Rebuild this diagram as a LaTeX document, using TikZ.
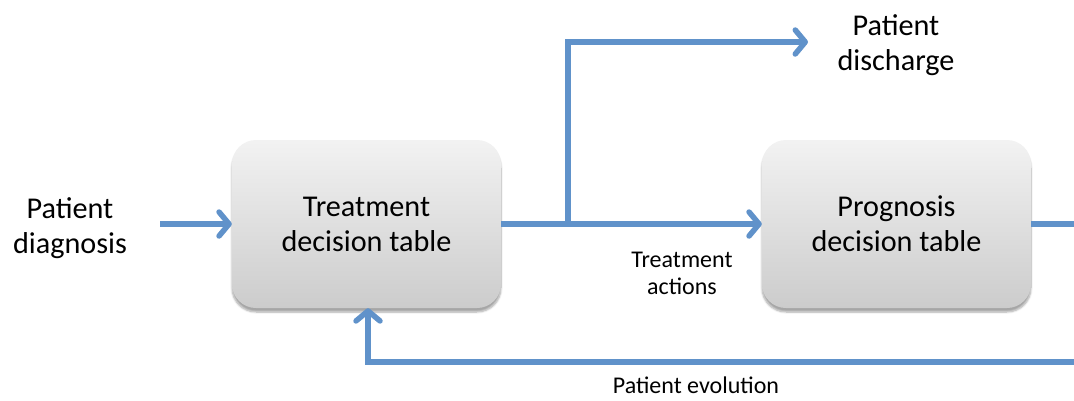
\documentclass[tikz,border=0pt]{standalone}
\usepackage{fontspec}
\setmainfont{Carlito}
\usetikzlibrary{arrows.meta,shadows.blur}
\definecolor{flowblue}{RGB}{96,146,202}
\begin{document}
\begin{tikzpicture}[x=1pt,y=-1pt,
  table/.style={rounded corners=24pt, minimum width=269pt, minimum height=168pt,
    top color=black!5, bottom color=black!20, draw=none,
    blur shadow={shadow xshift=0pt, shadow yshift=-4pt, shadow blur steps=6, shadow opacity=35},
    align=center, font=\fontsize{30.2}{35}\selectfont},
  biglabel/.style={align=center, font=\fontsize{30.2}{35}\selectfont, inner sep=0pt},
  smalllabel/.style={align=center, font=\fontsize{24}{27}\selectfont, inner sep=0pt},
  line/.style={draw=flowblue, line width=5.5pt},
  flow/.style={line, -{Straight Barb[length=10pt,width=24pt,round]}},
]
\useasboundingbox (0,0) rectangle (1074,400);

% the two decision tables
\node[table] (treat) at (366.5,224) {Treatment\\decision table};
\node[table] (prog)  at (896.5,224) {Prognosis\\decision table};

% free labels
\node[biglabel]   (diag)    at (70,228)  {Patient\\diagnosis};
\node[biglabel]   (disch)   at (896,45)  {Patient\\discharge};
\node[smalllabel] (actions) at (682,273) {Treatment\\actions};
\node[smalllabel] (evol)    at (696,385) {Patient evolution};

% connector end points
\coordinate (inflow)   at (160,224);
\coordinate (split)    at (568,224);
\coordinate (outtip)   at (808,42);
\coordinate (rightend) at (1074,224);
\coordinate (backend)  at (1074,362);

% connectors
\draw[flow] (inflow) -- (treat.west);
\draw[flow] (treat.east) -- (prog.west);
\draw[flow] (split) |- (outtip);
\draw[line] (prog.east) -- (rightend);
\draw[flow] (backend) -| ([xshift=1.5pt]treat.south);
\end{tikzpicture}
\end{document}
